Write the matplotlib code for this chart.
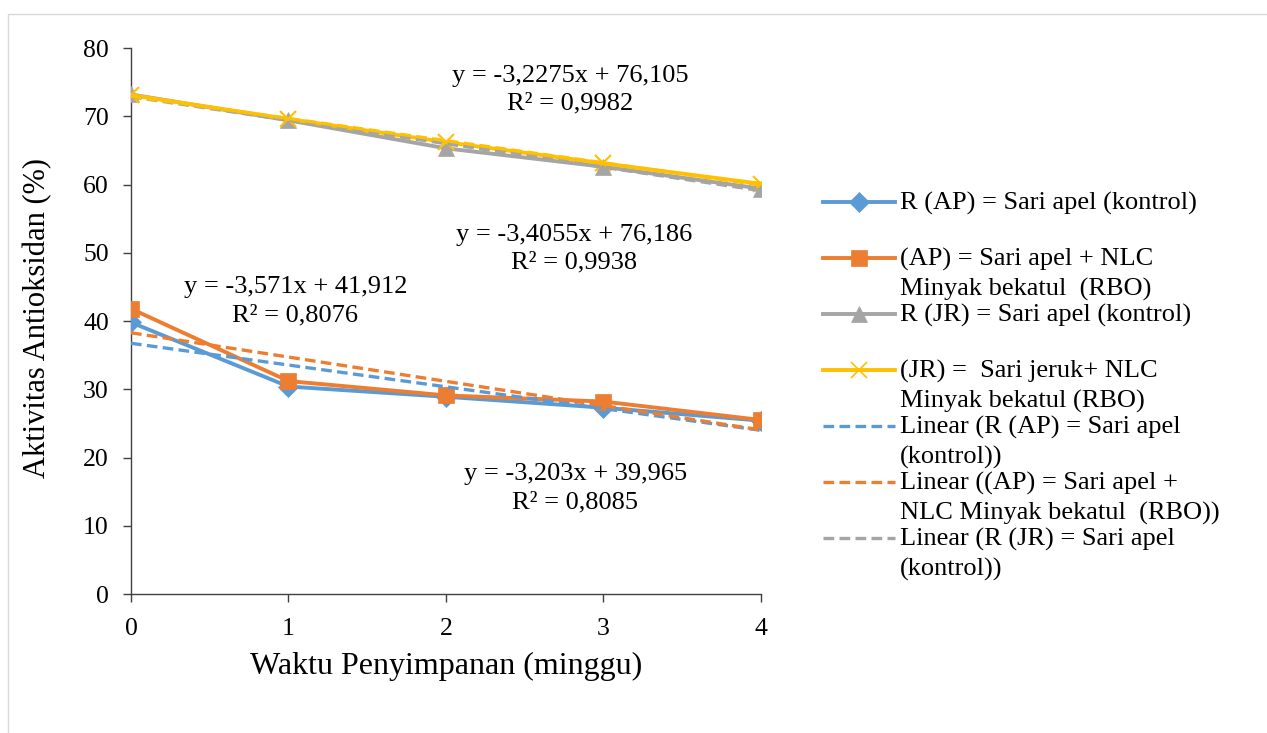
import matplotlib.pyplot as plt
from matplotlib.lines import Line2D
from matplotlib.patches import Rectangle
import numpy as np

plt.rcParams['font.family'] = ['Liberation Serif', 'DejaVu Serif']

# data
weeks = [0, 1, 2, 3, 4]
r_ap = [39.8, 30.4, 28.9, 27.3, 25.4]
ap_nlc = [41.8, 31.2, 29.1, 28.2, 25.5]
r_jr = [73.2, 69.4, 65.3, 62.6, 59.4]
jr_nlc = [73.1, 69.6, 66.2, 63.1, 60.1]

labels = [
    'R (AP) = Sari apel (kontrol)',
    '(AP) = Sari apel + NLC\nMinyak bekatul  (RBO)',
    'R (JR) = Sari apel (kontrol)',
    '(JR) =  Sari jeruk+ NLC\nMinyak bekatul (RBO)',
    'Linear (R (AP) = Sari apel\n(kontrol))',
    'Linear ((AP) = Sari apel +\nNLC Minyak bekatul  (RBO))',
    'Linear (R (JR) = Sari apel\n(kontrol))',
]

eq_texts = [
    'y = -3,2275x + 76,105\nR² = 0,9982',
    'y = -3,4055x + 76,186\nR² = 0,9938',
    'y = -3,571x + 41,912\nR² = 0,8076',
    'y = -3,203x + 39,965\nR² = 0,8085',
]
eq_pos = [(2.79, 73.85), (2.813, 50.6), (1.044, 42.9), (2.82, 15.5)]

blue, orange, grey, yellow = '#5B9BD5', '#ED7D31', '#A5A5A5', '#FFC000'

fig = plt.figure(figsize=(12.67, 7.33), dpi=100)
ax = fig.add_axes([0.1034, 0.1896, 0.4972, 0.7449])

# chart area border
fig.add_artist(Rectangle((8 / 1267, -0.01), 1.0, 1 - 14 / 733 + 0.01,
                         transform=fig.transFigure, fill=False,
                         edgecolor='#D9D9D9', lw=1))

series = [
    (r_ap, blue, 'D', 10),
    (ap_nlc, orange, 's', 11),
    (r_jr, grey, '^', 11),
    (jr_nlc, yellow, 'x', 12),
]
for vals, col, mk, ms in series:
    ax.plot(weeks, vals, color=col, lw=2.8, marker=mk, markersize=ms,
            markeredgecolor=col, markeredgewidth=1.5 if mk == 'x' else 0.5,
            zorder=3)

# linear trend lines
x = np.array(weeks)
dash = (0, (3.2, 1.6))
for vals, col in [(r_ap, blue), (ap_nlc, orange), (r_jr, grey), (jr_nlc, yellow)]:
    k, b = np.polyfit(x, vals, 1)
    ax.plot(x, k * x + b, color=col, lw=2.4, linestyle=dash, zorder=4)

for txt, (tx, ty) in zip(eq_texts, eq_pos):
    ax.text(tx, ty, txt, ha='center', va='center', fontsize=19,
            linespacing=1.33, color='black')

ax.set_xlim(0, 4)
ax.set_ylim(0, 80)
ax.set_xticks(weeks)
ax.set_yticks(range(0, 81, 10))
ax.spines['top'].set_visible(False)
ax.spines['right'].set_visible(False)
for s in ['left', 'bottom']:
    ax.spines[s].set_color('#404040')
    ax.spines[s].set_linewidth(1.0)
ax.tick_params(direction='out', length=6, width=1, color='#404040',
               labelsize=18.5)
ax.tick_params(axis='x', pad=11)
ax.tick_params(axis='y', pad=10)
ax.set_xlabel('Waktu Penyimpanan (minggu)', fontsize=23, va='center')
ax.set_ylabel('Aktivitas Antioksidan (%)', fontsize=22, va='center')
ax.xaxis.set_label_coords(0.5, (594 - 666) / 546)
ax.yaxis.set_label_coords((38 - 131) / 630, 0.505)

# legend, drawn entry by entry
handles = [
    dict(color=blue, ls='-', marker='D', ms=10),
    dict(color=orange, ls='-', marker='s', ms=11),
    dict(color=grey, ls='-', marker='^', ms=11),
    dict(color=yellow, ls='-', marker='x', ms=12),
    dict(color=blue, ls=dash, marker=None, ms=0),
    dict(color=orange, ls=dash, marker=None, ms=0),
    dict(color=grey, ls=dash, marker=None, ms=0),
]
W, H = 1267, 733
for i, (lab, h) in enumerate(zip(labels, handles)):
    py = 202 + 56 * i
    yf = 1 - py / H
    ln = Line2D([823 / W, 895 / W], [yf, yf], transform=fig.transFigure,
                color=h['color'], lw=2.8 if h['marker'] else 2.4, linestyle=h['ls'])
    fig.add_artist(ln)
    if h['marker']:
        mk = Line2D([859 / W], [yf], transform=fig.transFigure, color=h['color'],
                    marker=h['marker'], ms=h['ms'], ls='none',
                    markeredgewidth=1.2 if h['marker'] == 'x' else 0.5)
        fig.add_artist(mk)
    fig.text(900 / W, yf + 10 / H, lab, ha='left', va='top', fontsize=19,
             linespacing=1.4)

fig.savefig('out.png', dpi=100)
plt.close(fig)
